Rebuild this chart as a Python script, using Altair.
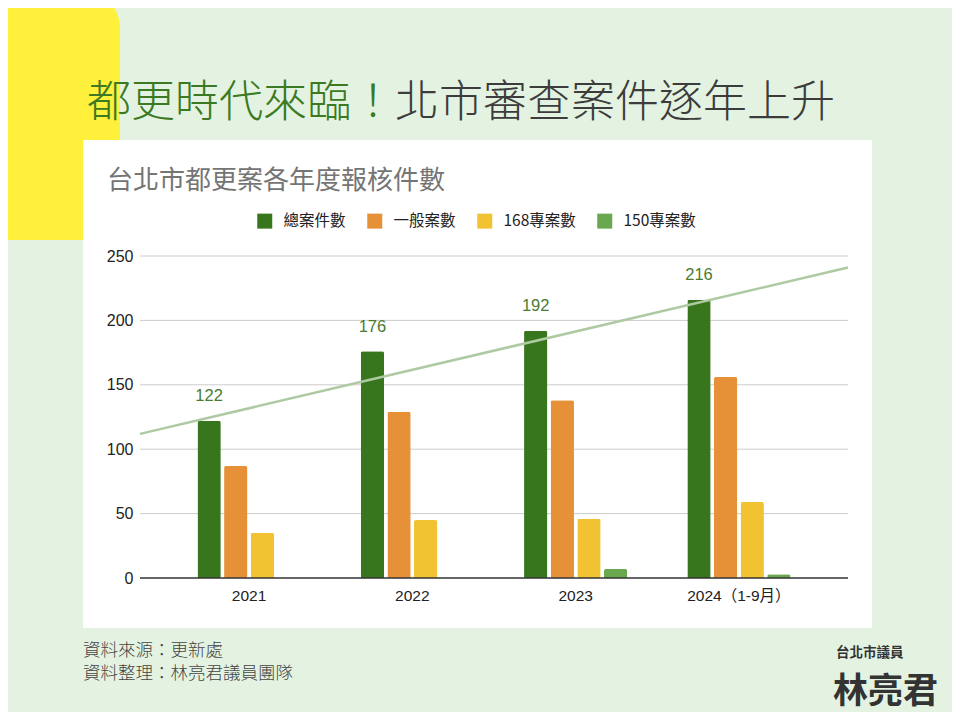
import altair as alt
import pandas as pd

# ---- data ----
years = ["2021", "2022", "2023", "2024（1-9月）"]
series = ["總案件數", "一般案數", "168專案數", "150專案數"]
total = [122, 176, 192, 216]
general = [87, 129, 138, 156]
p168 = [35, 45, 46, 59]
p150 = [0, 0, 7, 3]
colors = ["#38761d", "#e69138", "#f1c232", "#6aa84f"]
y_ticks = [0, 50, 100, 150, 200, 250]

rows = []
for i, yr in enumerate(years):
    for s, vals in zip(series, [total, general, p168, p150]):
        rows.append({"year": yr, "idx": i + 1, "series": s, "value": vals[i]})
df = pd.DataFrame(rows)

# ---- layout ----
W, H = 708, 322
PAD_L, PAD_T = 132, 248
CANVAS_W, CANVAS_H = 944, 704
OX, OY = 140, 256  # plot origin in page pixels
X_PI, X_PO = 0.368, 0.352
XO_PI = 0.125
n = len(years)
edge = X_PO + (1 - X_PI) / 2
lo, hi = 1 - edge, n + edge

CJK = "'Noto Sans CJK TC', 'Noto Sans CJK SC', sans-serif"
LAT = "'Liberation Sans', 'Noto Sans CJK TC', sans-serif"

one = alt.Data(values=[{}])
yscale = alt.Scale(domain=[0, 250], nice=False, zero=True)
yaxis = alt.Axis(
    title=None, values=y_ticks, grid=False, ticks=False, domain=False,
    labelPadding=7, labelFontSize=16, labelFont=LAT, labelColor="#222222",
    zindex=1,
)
xscale = alt.Scale(paddingInner=X_PI, paddingOuter=X_PO)
xaxis = alt.Axis(
    title=None, labelAngle=0, ticks=False, domain=False, labelPadding=10,
    labelFontSize=15.5, labelFont=LAT, labelColor="#222222", zindex=1,
)
xoscale = alt.Scale(paddingInner=XO_PI, paddingOuter=0)


def px(x):
    return alt.value(x - OX)


def py(y):
    return alt.value(y - OY)


yellow = alt.Chart(one).mark_rect(color="#fff13b", cornerRadiusTopRight=38).encode(
    x=px(-10), x2=px(120), y=py(-10), y2=py(240)
)
panel = alt.Chart(one).mark_rect(color="white").encode(
    x=px(83), x2=px(872), y=py(140), y2=py(628)
)

grid = alt.Chart(pd.DataFrame({"value": y_ticks[1:]})).mark_rule(
    color="#cccccc", strokeWidth=1
).encode(y=alt.Y("value:Q", scale=yscale, axis=yaxis), x=alt.value(0), x2=alt.value(W))

bars = alt.Chart(df).mark_bar(cornerRadiusTopLeft=2, cornerRadiusTopRight=2).encode(
    x=alt.X("year:N", sort=years, scale=xscale, axis=xaxis),
    xOffset=alt.XOffset("series:N", sort=series, scale=xoscale),
    y=alt.Y("value:Q", scale=yscale, axis=yaxis),
    color=alt.Color(
        "series:N",
        sort=series,
        scale=alt.Scale(domain=series, range=colors),
        legend=alt.Legend(
            title=None, orient="none", legendX=117, legendY=-43, direction="horizontal",
            symbolType="square", symbolSize=225, symbolStrokeWidth=0, symbolOpacity=1,
            labelFontSize=15.5, labelFont=CJK, labelColor="#222222", columnPadding=21,
            labelOffset=11, padding=0,
        ),
    ),
)

baseline = alt.Chart(pd.DataFrame({"value": [0]})).mark_rule(
    color="#333333", strokeWidth=1.3
).encode(y=alt.Y("value:Q", scale=yscale, axis=yaxis), x=alt.value(0), x2=alt.value(W))

trend = alt.Chart(df).transform_filter(
    alt.datum.series == series[0]
).transform_regression("idx", "value", extent=[lo, hi]).mark_line(
    color="#aecaa3", strokeWidth=2.5
).encode(
    x=alt.X("idx:Q", scale=alt.Scale(domain=[lo, hi], nice=False, zero=False), axis=None),
    y=alt.Y("value:Q", scale=yscale, axis=yaxis),
)

labels = alt.Chart(df).transform_filter(alt.datum.series == series[0]).mark_text(
    dy=-19.5, baseline="alphabetic", fontSize=16.5, font=LAT, color="#4a7b30"
).encode(
    x=alt.X("year:N", sort=years, scale=xscale, axis=None),
    xOffset=alt.XOffset("series:N", sort=series, scale=xoscale),
    y=alt.Y("value:Q", scale=yscale, axis=yaxis),
    text="value:Q",
)


def txt(s, x, y, size, color, weight=400, font=CJK):
    return alt.Chart(one).mark_text(
        text=s, align="left", baseline="alphabetic", fontSize=size, color=color,
        fontWeight=weight, font=font,
    ).encode(x=px(x), y=py(y))


title_green = txt("都更時代來臨！", 87, 117, 44, "#3b7a22", 300)
title_dark = txt("北市審查案件逐年上升", 87 + 7 * 44, 117, 44, "#3c3c3c", 300)
chart_title = txt("台北市都更案各年度報核件數", 107, 189, 26, "#757575")
foot1 = txt("資料來源：更新處", 83, 656, 17.5, "#444444", 300)
foot2 = txt("資料整理：林亮君議員團隊", 83, 679, 17.5, "#444444", 300)
name1 = txt("台北市議員", 836, 657, 13.5, "#333333", 700)
name2 = txt("林亮君", 833, 703, 35, "#333333", 700)

chart = alt.layer(
    yellow, panel, grid, bars, baseline, trend, labels,
    title_green, title_dark, chart_title, foot1, foot2, name1, name2,
).resolve_scale(x="independent").properties(
    width=W, height=H,
    padding={"left": PAD_L, "top": PAD_T, "right": CANVAS_W - PAD_L - W, "bottom": CANVAS_H - PAD_T - H},
    autosize=alt.AutoSizeParams(type="none"),
    background="#e4f3e1",
).configure_view(stroke=None)

chart.save("out.html", embed_options={"renderer": "svg", "actions": False})
